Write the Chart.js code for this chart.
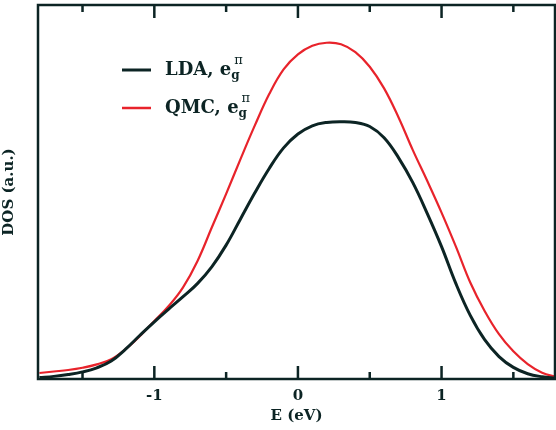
<!DOCTYPE html>
<html>
<head>
<meta charset="utf-8">
<script src="https://cdn.jsdelivr.net/npm/chart.js@4.4.0/dist/chart.umd.min.js"></script>
<style>
  html, body { margin: 0; padding: 0; background: #fff; }
  #wrap { width: 556px; height: 430px; }
</style>
</head>
<body>
<div id="wrap"><canvas id="dosChart" width="556" height="430"></canvas></div>
<script>
// Energy grid (eV) and DOS values (a.u.)
const energy = [-1.8, -1.7, -1.6, -1.5, -1.4, -1.3, -1.2, -1.1, -1.0, -0.9, -0.8, -0.7, -0.6, -0.5, -0.4, -0.3, -0.2, -0.1,
                0.0, 0.1, 0.2, 0.3, 0.4, 0.5, 0.6, 0.7, 0.8, 0.9, 1.0, 1.1, 1.2, 1.3, 1.4, 1.5, 1.6, 1.7, 1.8];
const ldaDos = [0.004, 0.007, 0.012, 0.019, 0.030, 0.048, 0.080, 0.117, 0.153, 0.187, 0.220, 0.255, 0.300, 0.358, 0.428, 0.498, 0.563, 0.618,
                0.655, 0.677, 0.686, 0.688, 0.686, 0.675, 0.645, 0.592, 0.525, 0.443, 0.354, 0.255, 0.170, 0.105, 0.060, 0.031, 0.014, 0.006, 0.002];
const qmcDos = [0.016, 0.020, 0.024, 0.030, 0.039, 0.053, 0.080, 0.115, 0.155, 0.195, 0.245, 0.315, 0.405, 0.495, 0.588, 0.678, 0.762, 0.828,
                0.868, 0.891, 0.899, 0.895, 0.874, 0.835, 0.777, 0.700, 0.612, 0.530, 0.445, 0.354, 0.258, 0.182, 0.120, 0.074, 0.040, 0.017, 0.005];
const xTickValues = [-1, 0, 1];
const xMinorTicks = [-1.5, -0.5, 0.5, 1.5];

const inkColor = '#0c2424';
const qmcColor = '#e8232b';
const serif = "'DejaVu Serif', 'Liberation Serif', serif";

function toPoints(ys) {
    return energy.map((e, i) => ({ x: e, y: ys[i] }));
}

// Frame, inward ticks and the hand-made legend
const framePlugin = {
    id: 'frame',
    afterDraw(chart) {
        const c = chart.ctx;
        const a = chart.chartArea;
        const xs = chart.scales.x;
        c.save();
        c.strokeStyle = inkColor;
        c.lineWidth = 2.5;
        c.strokeRect(a.left, a.top, a.right - a.left, a.bottom - a.top);

        // inward ticks on bottom and top edges
        c.beginPath();
        const allTicks = xTickValues.map(v => [v, 13]).concat(xMinorTicks.map(v => [v, 7]));
        allTicks.forEach(t => {
            const px = xs.getPixelForValue(t[0]);
            c.moveTo(px, a.bottom);
            c.lineTo(px, a.bottom - t[1]);
            c.moveTo(px, a.top);
            c.lineTo(px, a.top + t[1]);
        });
        c.stroke();

        // legend
        const entries = [
            { label: 'LDA', color: inkColor, width: 3, y: 70 },
            { label: 'QMC', color: qmcColor, width: 2.5, y: 108 }
        ];
        entries.forEach(en => {
            c.strokeStyle = en.color;
            c.lineWidth = en.width;
            c.beginPath();
            c.moveTo(122, en.y);
            c.lineTo(151, en.y);
            c.stroke();

            c.fillStyle = inkColor;
            c.textBaseline = 'alphabetic';
            c.textAlign = 'left';
            c.font = 'bold 18px ' + serif;
            const main = en.label + ', e';
            c.fillText(main, 165, en.y + 5);
            const w = c.measureText(main).width;
            c.font = 'bold 12px ' + serif;
            c.fillText('g', 165 + w, en.y + 9);
            c.font = '13px ' + serif;
            c.fillText('\u03C0', 165 + w + 3, en.y - 6);
        });
        c.restore();
    }
};

const ctx = document.getElementById('dosChart').getContext('2d');
const dosChart = new Chart(ctx, {
    type: 'scatter',
    data: {
        datasets: [
            {
                label: 'LDA, eg\u03C0',
                data: toPoints(ldaDos),
                showLine: true,
                borderColor: inkColor,
                borderWidth: 3,
                pointRadius: 0,
                tension: 0.4
            },
            {
                label: 'QMC, eg\u03C0',
                data: toPoints(qmcDos),
                showLine: true,
                borderColor: qmcColor,
                borderWidth: 2.2,
                pointRadius: 0,
                tension: 0.4
            }
        ]
    },
    options: {
        responsive: false,
        animation: false,
        layout: { padding: { top: 5, right: 1, left: 0, bottom: 0 } },
        plugins: {
            legend: { display: false },
            tooltip: { enabled: false }
        },
        scales: {
            x: {
                type: 'linear',
                min: -1.81,
                max: 1.79,
                afterBuildTicks: function(scale) {
                    scale.ticks = xTickValues.map(v => ({ value: v }));
                },
                afterFit: function(scale) { scale.height = 51; },
                grid: { display: false, drawTicks: false },
                border: { display: false },
                ticks: {
                    color: inkColor,
                    padding: 8,
                    font: { family: serif, size: 15, weight: 'bold' },
                    callback: v => String(v)
                },
                title: {
                    display: true,
                    text: 'E (eV)',
                    color: inkColor,
                    padding: { top: 0, bottom: 5 },
                    font: { family: serif, size: 15, weight: 'bold' }
                }
            },
            y: {
                min: 0,
                max: 1,
                afterFit: function(scale) { scale.width = 38; },
                grid: { display: false, drawTicks: false },
                border: { display: false },
                ticks: { display: false },
                title: {
                    display: true,
                    text: 'DOS (a.u.)',
                    color: inkColor,
                    padding: { top: 0, bottom: 9 },
                    font: { family: serif, size: 15, weight: 'bold' }
                }
            }
        }
    },
    plugins: [framePlugin]
});
</script>
</body>
</html>
